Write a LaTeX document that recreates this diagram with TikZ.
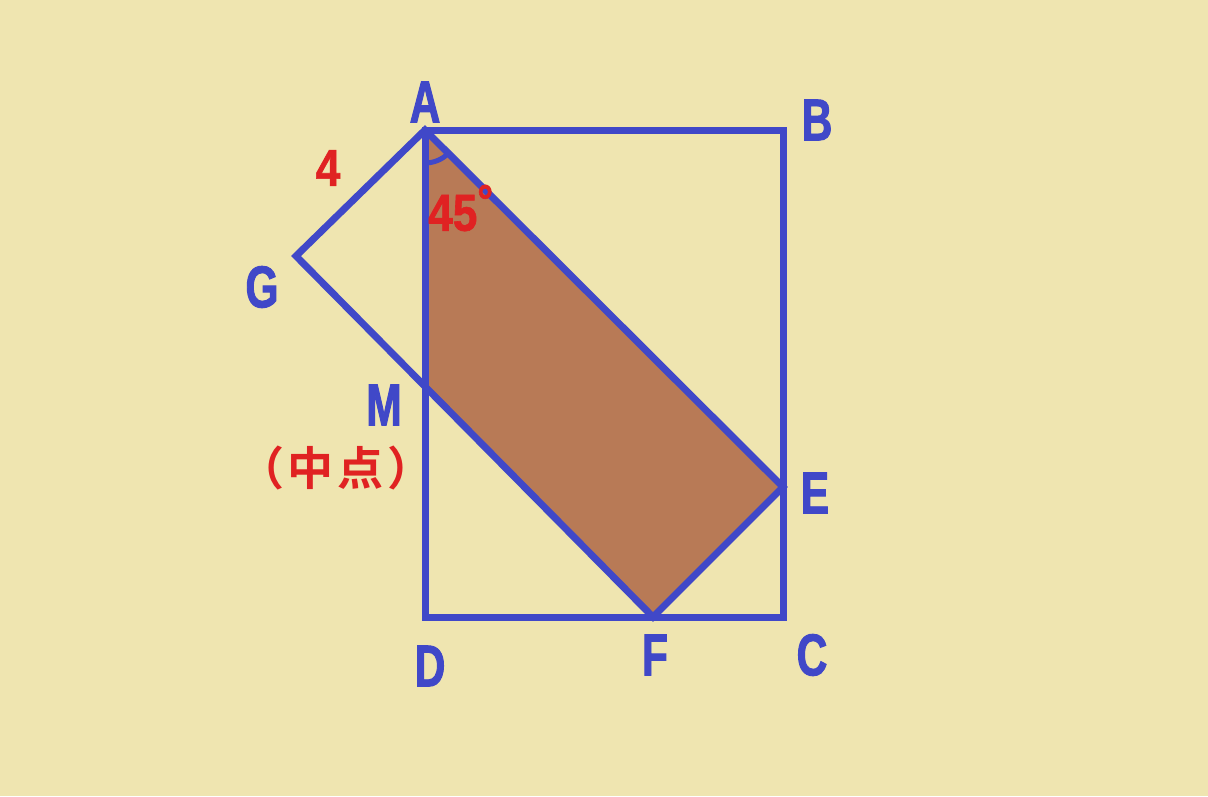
\documentclass[tikz,border=0pt]{standalone}
\usepackage{fontspec}
\newfontfamily\labfont{Liberation Sans Bold}[FakeStretch=0.72,FakeBold=1.6]
\newfontfamily\redfont{Liberation Sans Bold}[FakeStretch=0.85,FakeBold=1.2]
\newfontfamily\cjk{Noto Sans CJK SC Bold}
\definecolor{bg}{HTML}{EFE5B0}
\definecolor{lblue}{HTML}{4048C8}
\definecolor{lred}{HTML}{E02222}
\definecolor{fillbrown}{HTML}{B87A56}
\tikzset{
  seg/.style={draw=lblue, line width=7pt, line join=miter},
  ptlabel/.style={text=lblue, font=\labfont\fontsize{59}{59}\selectfont, inner sep=0pt},
  redlabel/.style={text=lred, font=\redfont\fontsize{52}{52}\selectfont, inner sep=0pt},
}
\newcommand{\cbox}[1]{\makebox[50pt]{#1}}
\begin{document}
\begin{tikzpicture}[x=1pt,y=-1pt]
\fill[bg] (0,0) rectangle (1208,796);
\useasboundingbox (0,0) rectangle (1208,796);
\coordinate (A) at (425,130);
\coordinate (B) at (783,130);
\coordinate (C) at (783,617);
\coordinate (D) at (425,617);
\coordinate (E) at (783,487);
\coordinate (F) at (653,617);
\coordinate (G) at (296,256);
\coordinate (M) at (425,385);
\fill[fillbrown] (A) -- (E) -- (F) -- (M) -- cycle;
\draw[seg] (A) -- (B) -- (C) -- (D) -- cycle;
\draw[seg] (A) -- (E) -- (F) -- (G) -- cycle;
\draw[draw=lblue, line width=5pt] ([yshift=-33pt]A) arc[start angle=270, end angle=315, radius=33pt];
\node[ptlabel] (lA) at (425,102) {A};
\node[ptlabel] (lB) at (817,120) {B};
\node[ptlabel] (lG) at (262,287) {G};
\node[ptlabel] (lM) at (384,405) {M};
\node[ptlabel] (lE) at (815,493) {E};
\node[ptlabel] (lD) at (430,666) {D};
\node[ptlabel] (lF) at (655,655) {F};
\node[ptlabel] (lC) at (812,655) {C};
\node[redlabel] (l4) at (328,168) {4};
\node[redlabel, anchor=west] (l45) at (428,208) {45\raisebox{14pt}{\fontsize{46}{46}\selectfont\textdegree}};
\node[text=lred, font=\cjk\fontsize{46}{46}\selectfont, inner sep=0pt] (mid) at (336,468) {\cbox{（}\cbox{中}\cbox{点}\cbox{）}};
\end{tikzpicture}
\end{document}
